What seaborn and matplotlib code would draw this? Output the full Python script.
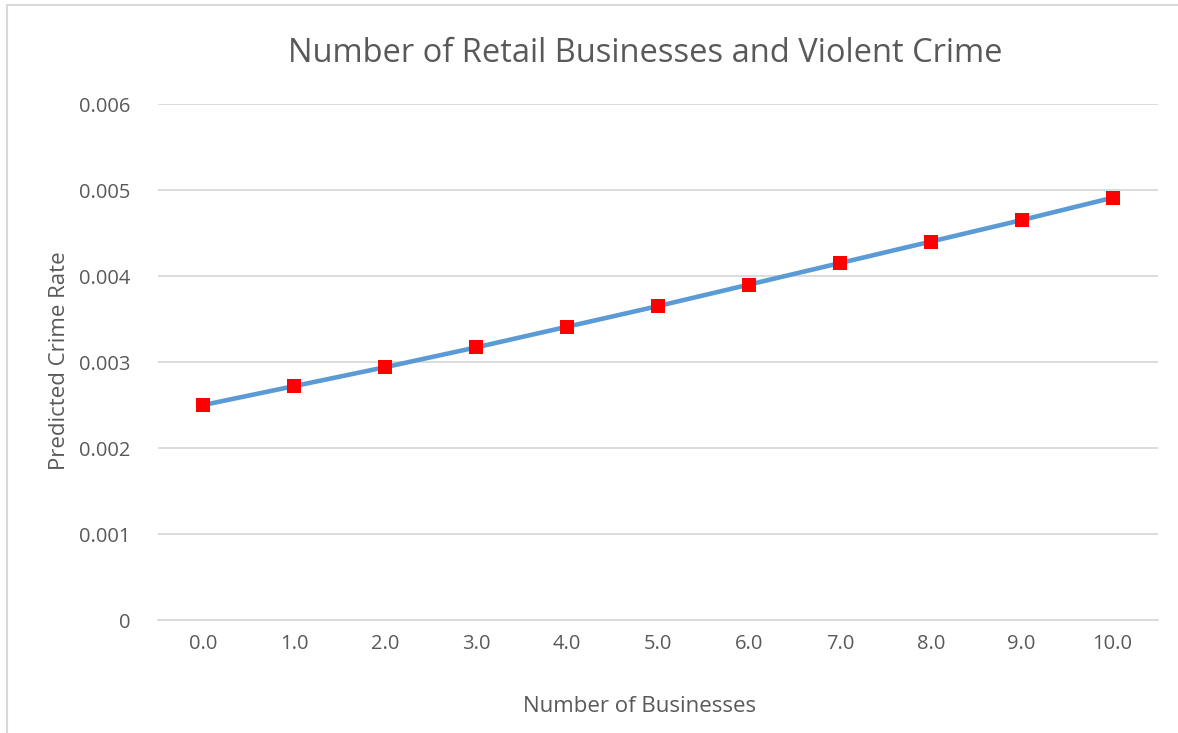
import matplotlib
matplotlib.use("Agg")
import matplotlib.pyplot as plt
import seaborn as sns
import pandas as pd
from matplotlib.patches import Rectangle

businesses = [0.0, 1.0, 2.0, 3.0, 4.0, 5.0, 6.0, 7.0, 8.0, 9.0, 10.0]
crime_rate = [0.00250, 0.00272, 0.00294, 0.00317, 0.00341, 0.00365,
              0.00390, 0.00415, 0.00440, 0.00465, 0.00491]
x_tick_labels = ["0.0", "1.0", "2.0", "3.0", "4.0", "5.0",
                 "6.0", "7.0", "8.0", "9.0", "10.0"]
y_ticks = [0, 0.001, 0.002, 0.003, 0.004, 0.005, 0.006]
y_tick_labels = ["0", "0.001", "0.002", "0.003", "0.004", "0.005", "0.006"]

df = pd.DataFrame({"pos": range(len(businesses)), "rate": crime_rate})

sns.set_theme(style="white")
plt.rcParams["font.family"] = ["Open Sans", "DejaVu Sans"]

fig = plt.figure(figsize=(11.78, 7.33), dpi=100)
ax = fig.add_axes([158 / 1178, 1 - 620 / 733, 1000 / 1178, 516 / 733])

# chart frame
fig.patches.append(Rectangle((7 / 1178, -0.1), 1.2, 1 - 5 / 733 + 0.1,
                             transform=fig.transFigure, fill=False,
                             edgecolor="#d9d9d9", linewidth=1.5))

sns.lineplot(data=df, x="pos", y="rate", ax=ax, color="#5b9bd5",
             linewidth=3.3, zorder=3)
sns.scatterplot(data=df, x="pos", y="rate", ax=ax, color="#ff0000",
                marker="s", s=115, edgecolor="#ff0000", linewidth=0, zorder=4)

ax.set_xlim(-0.5, 10.5)
ax.set_ylim(0, 0.006)
ax.set_xticks(range(len(businesses)))
ax.set_xticklabels(x_tick_labels)
ax.set_yticks(y_ticks)
ax.set_yticklabels(y_tick_labels)
ax.tick_params(axis="both", colors="#595959", labelsize=14.5, length=0)
ax.tick_params(axis="x", pad=10)
ax.tick_params(axis="y", pad=20)
ax.grid(axis="y", color="#d9d9d9", linewidth=1.3)
ax.set_axisbelow(True)
for side in ["top", "right", "left"]:
    ax.spines[side].set_visible(False)
ax.spines["bottom"].set_color("#d9d9d9")
ax.spines["bottom"].set_linewidth(1.3)

ax.set_xlabel("Number of Businesses", fontsize=16, color="#595959")
ax.set_ylabel("Predicted Crime Rate", fontsize=16, color="#595959")
ax.xaxis.set_label_coords((640 - 158) / 1000, -(696 - 620) / 516)
ax.yaxis.set_label_coords(-(158 - 70) / 1000, (620 - 361) / 516)
fig.text(645 / 1178, 1 - 53 / 733, "Number of Retail Businesses and Violent Crime",
         ha="center", va="center", fontsize=23.5, color="#595959")

fig.savefig("out.png", dpi=100)
